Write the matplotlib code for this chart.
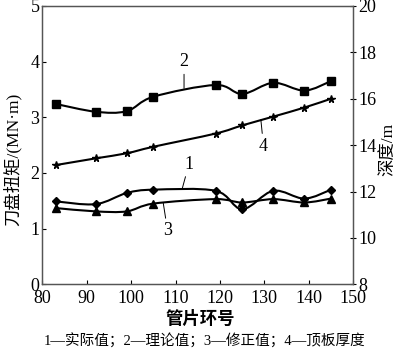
import matplotlib
matplotlib.use("Agg")
import matplotlib.pyplot as plt
import numpy as np
from matplotlib.path import Path
from matplotlib.patches import PathPatch

plt.rcParams['font.family'] = ['Liberation Serif', 'Noto Sans CJK SC']
plt.rcParams['font.size'] = 13

# ring numbers
rings = [83, 92, 99, 105, 119, 125, 132, 139, 145]
# torque, MN*m
actual = [1.49, 1.44, 1.64, 1.70, 1.68, 1.35, 1.68, 1.54, 1.70]
theory = [3.24, 3.10, 3.11, 3.37, 3.58, 3.42, 3.62, 3.48, 3.65]
corrected = [1.37, 1.31, 1.31, 1.45, 1.53, 1.47, 1.53, 1.47, 1.54]
# roof thickness, m
roof = [13.14, 13.43, 13.65, 13.93, 14.5, 14.85, 15.23, 15.62, 16.0]

caption = "1—实际值；2—理论值；3—修正值；4—顶板厚度"


def smooth_path(ax, x, y, lw=1.5):
    # catmull-rom curve through the points, drawn as bezier path
    p = np.column_stack([x, y]).astype(float)
    verts = [p[0]]
    codes = [Path.MOVETO]
    n = len(p)
    for i in range(n - 1):
        p0 = p[i - 1] if i > 0 else p[i]
        p3 = p[i + 2] if i + 2 < n else p[i + 1]
        c1 = p[i] + (p[i + 1] - p0) / 6.0
        c2 = p[i + 1] - (p3 - p[i]) / 6.0
        verts += [c1, c2, p[i + 1]]
        codes += [Path.CURVE4] * 3
    ax.add_patch(PathPatch(Path(verts, codes), fill=False, lw=lw, color='black'))


fig = plt.figure(figsize=(4.0, 3.51), dpi=100)
ax = fig.add_axes([0.106, 0.19, 0.777, 0.793])
ax2 = ax.twinx()

smooth_path(ax, rings, actual)
smooth_path(ax, rings, theory)
smooth_path(ax, rings, corrected)
smooth_path(ax2, rings, roof)

ax.plot(rings, actual, 'D', color='black', ms=4)
ax.plot(rings, theory, 's', color='black', ms=5.5)
ax.plot(rings, corrected, '^', color='black', ms=5.5)
ax2.plot(rings, roof, '*', color='black', ms=5.5)

ax.set_xlim(80, 150)
ax.set_ylim(0, 5)
ax2.set_ylim(8, 20)
ax.set_xticks(range(80, 151, 10))
ax.set_yticks(range(0, 6))
ax2.set_yticks(range(8, 21, 2))

ax.tick_params(axis='x', direction='in', length=3, pad=4, labelsize=13)
ax.tick_params(axis='y', direction='in', length=3, pad=2, labelsize=13)
ax2.tick_params(axis='y', direction='inout', length=5, pad=1, labelsize=13)
ax.tick_params(top=False)

for a in (ax, ax2):
    for s in a.spines.values():
        s.set_linewidth(0.9)
        s.set_color('#555555')

# curve number labels with leader lines
lead = dict(arrowstyle='-', lw=0.7, shrinkA=1, shrinkB=0)
ax.annotate('1', xy=(111.5, 1.72), xytext=(113, 2.16), ha='center', va='center', arrowprops=lead)
ax.annotate('2', xy=(111.9, 3.52), xytext=(111.9, 4.0), ha='center', va='center', arrowprops=lead)
ax.annotate('3', xy=(107.2, 1.47), xytext=(108.2, 0.96), ha='center', va='center', arrowprops=lead)
ax2.annotate('4', xy=(129.2, 15.1), xytext=(129.8, 13.96), ha='center', va='center', arrowprops=lead)

fig.text(0.032, 0.545, '刀盘扭矩/(MN·m)', rotation=90, ha='center', va='center', fontsize=12.5)
fig.text(0.97, 0.575, '深度/m', rotation=90, ha='center', va='center', fontsize=12.5)
fig.text(0.5, 0.09, '管片环号', ha='center', va='center', fontsize=12.5, fontweight='bold')
fig.text(0.512, 0.028, caption, ha='center', va='center', fontsize=10.5)

fig.savefig('out.png', dpi=100)
